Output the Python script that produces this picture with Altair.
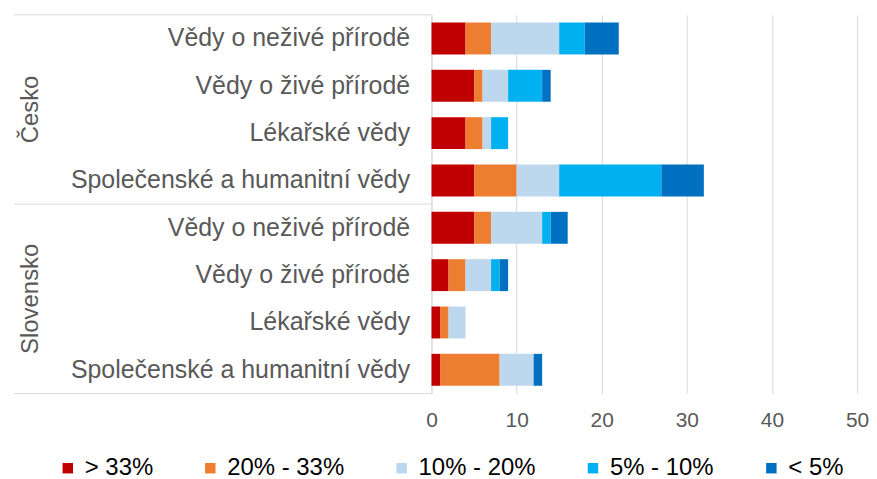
import altair as alt
import pandas as pd

groups = ["Česko"] * 4 + ["Slovensko"] * 4
categories = ["Vědy o neživé přírodě", "Vědy o živé přírodě", "Lékařské vědy",
              "Společenské a humanitní vědy"] * 2
buckets = ["> 33%", "20% - 33%", "10% - 20%", "5% - 10%", "< 5%"]
colors = ["#C00000", "#ED7D31", "#BDD7EE", "#00B0F0", "#0070C0"]

v_gt33 = [4, 5, 4, 5, 5, 2, 1, 1]
v_20_33 = [3, 1, 2, 5, 2, 2, 1, 7]
v_10_20 = [8, 3, 1, 5, 6, 3, 2, 4]
v_5_10 = [3, 4, 2, 12, 1, 1, 0, 0]
v_lt5 = [4, 1, 0, 5, 2, 1, 0, 1]
series = [v_gt33, v_20_33, v_10_20, v_5_10, v_lt5]

group_names = ["Česko", "Slovensko"]
group_mid = [2, 6]
separators = [0, 4, 8]

keys = [f"{g}|{c}" for g, c in zip(groups, categories)]
rows = []
for bi, (b, vals) in enumerate(zip(buckets, series)):
    for k, v in zip(keys, vals):
        rows.append({"key": k, "bucket": b, "order": bi, "value": v})
df = pd.DataFrame(rows)

FONT = "Liberation Sans"
GRAY = "#D9D9D9"
TXT = "#595959"

bars = alt.Chart(df).mark_bar().encode(
    y=alt.Y("key:N", sort=keys, title=None,
            scale=alt.Scale(paddingInner=0.326, paddingOuter=0.163),
            axis=alt.Axis(labelExpr="split(datum.label, '|')[1]", labelFontSize=25,
                          labelColor=TXT, labelFont=FONT, labelPadding=22, ticks=False,
                          domainColor=GRAY, labelLimit=600, grid=False)),
    x=alt.X("sum(value):Q", title=None,
            scale=alt.Scale(domain=[0, 50], nice=False),
            axis=alt.Axis(values=[0, 10, 20, 30, 40, 50], grid=True, gridColor=GRAY,
                          domain=False, ticks=False, tickSize=0, labelFontSize=21,
                          labelColor=TXT, labelFont=FONT, labelPadding=16,
                          labelFlush=False)),
    color=alt.Color("bucket:N", sort=buckets,
                    scale=alt.Scale(domain=buckets, range=colors),
                    legend=alt.Legend(title=None, orient="none", direction="horizontal",
                                      columns=5, legendX=-377, legendY=443,
                                      symbolType="square", symbolSize=110,
                                      symbolStrokeWidth=0, labelFontSize=24,
                                      labelFont=FONT, labelColor="#000000",
                                      labelLimit=400, columnPadding=45, labelOffset=5)),
    order=alt.Order("order:Q"),
)

sep_df = pd.DataFrame({"pos": separators})
seps = alt.Chart(sep_df).mark_rule(color=GRAY, strokeWidth=1).encode(
    y=alt.Y("pos:Q", scale=alt.Scale(domain=[0, 8], reverse=True, nice=False), axis=None),
    x=alt.value(-419),
    x2=alt.value(0),
)

grp_df = pd.DataFrame({"group": group_names, "pos": group_mid})
grp = alt.Chart(grp_df).mark_text(angle=270, fontSize=24, font=FONT, color=TXT,
                                  align="center", baseline="middle").encode(
    y=alt.Y("pos:Q", scale=alt.Scale(domain=[0, 8], reverse=True, nice=False), axis=None),
    x=alt.value(-402),
    text="group:N",
)

chart = alt.layer(bars, seps, grp).resolve_scale(y="independent").properties(
    width=427, height=380,
    padding={"left": 5, "top": 5, "right": 0, "bottom": 0},
).configure_view(stroke=None)

chart.save("out.html", embed_options={"renderer": "svg", "actions": False})
